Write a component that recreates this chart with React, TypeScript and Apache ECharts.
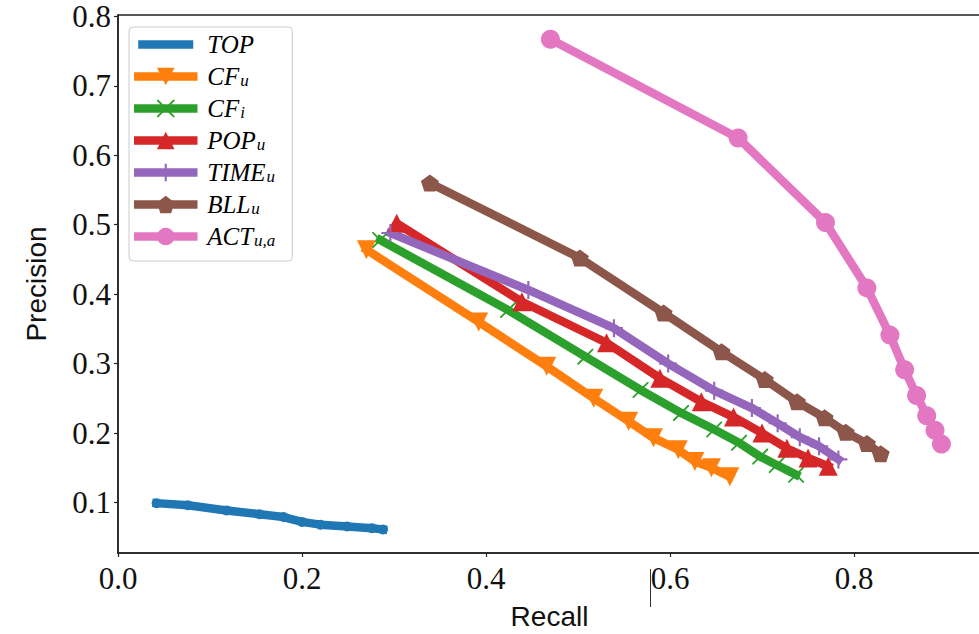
import React, { useEffect, useRef } from "react";
import * as echarts from "echarts";

// Precision / recall curves, one point per cut-off, for each recommender
const seriesNames = ["TOP", "CF_u", "CF_i", "POP_u", "TIME_u", "BLL_u", "ACT_u,a"];
const seriesColors = ["#1f77b4", "#ff7f0e", "#2ca02c", "#d62728", "#9467bd", "#8c564b", "#e377c2"];

const topRecall = [0.042, 0.076, 0.118, 0.154, 0.18, 0.2, 0.22, 0.249, 0.276, 0.288];
const topPrecision = [0.099, 0.096, 0.0885, 0.083, 0.079, 0.072, 0.068, 0.0655, 0.063, 0.061];

const cfuRecall = [0.27, 0.392, 0.466, 0.517, 0.555, 0.582, 0.609, 0.627, 0.645, 0.665];
const cfuPrecision = [0.464, 0.36, 0.296, 0.25, 0.217, 0.193, 0.176, 0.159, 0.15, 0.137];

const cfiRecall = [0.285, 0.424, 0.508, 0.568, 0.612, 0.648, 0.675, 0.698, 0.716, 0.737];
const cfiPrecision = [0.478, 0.377, 0.31, 0.262, 0.229, 0.205, 0.186, 0.166, 0.154, 0.14];

const popRecall = [0.303, 0.439, 0.531, 0.589, 0.634, 0.669, 0.7, 0.727, 0.75, 0.772];
const popPrecision = [0.502, 0.389, 0.33, 0.279, 0.245, 0.223, 0.2, 0.178, 0.164, 0.152];

const timeRecall = [0.296, 0.446, 0.539, 0.598, 0.648, 0.689, 0.717, 0.741, 0.762, 0.783];
const timePrecision = [0.488, 0.406, 0.351, 0.3, 0.261, 0.236, 0.214, 0.194, 0.181, 0.162];

const bllRecall = [0.339, 0.502, 0.593, 0.656, 0.703, 0.738, 0.768, 0.791, 0.814, 0.829];
const bllPrecision = [0.56, 0.452, 0.373, 0.317, 0.277, 0.245, 0.222, 0.201, 0.185, 0.17];

const actRecall = [0.47, 0.674, 0.769, 0.814, 0.839, 0.855, 0.868, 0.879, 0.888, 0.895];
const actPrecision = [0.767, 0.625, 0.503, 0.409, 0.341, 0.291, 0.254, 0.225, 0.204, 0.184];

const recallValues = [topRecall, cfuRecall, cfiRecall, popRecall, timeRecall, bllRecall, actRecall];
const precisionValues = [topPrecision, cfuPrecision, cfiPrecision, popPrecision, timePrecision, bllPrecision, actPrecision];

// Tick labels
const xTicks = [0.0, 0.2, 0.4, 0.6, 0.8];
const yTicks = [0.1, 0.2, 0.3, 0.4, 0.5, 0.6, 0.7, 0.8];

// Legend labels in math style: base letters plus subscript
const legendBase: Record<string, string> = {
  TOP: "TOP",
  CF_u: "CF",
  CF_i: "CF",
  POP_u: "POP",
  TIME_u: "TIME",
  BLL_u: "BLL",
  "ACT_u,a": "ACT",
};
const legendSub: Record<string, string> = {
  TOP: "",
  CF_u: "u",
  CF_i: "i",
  POP_u: "u",
  TIME_u: "u",
  BLL_u: "u",
  "ACT_u,a": "u,a",
};

// Marker shapes
const PENTAGON = "path://M50 0L97.55 34.55L79.4 90.45L20.6 90.45L2.45 34.55Z";
const PLUS = "path://M44 0H56V100H44Z M0 44H100V56H0Z";
const CROSS = "path://M0 0L8 0L100 92L100 100L92 100L0 8Z M100 0L100 8L8 100L0 100L0 92L92 0Z";

const markers: { symbol: string; size: number | number[]; rotate: number }[] = [
  { symbol: "circle", size: 10, rotate: 0 },
  { symbol: "triangle", size: 19, rotate: 180 },
  { symbol: CROSS, size: 16, rotate: 0 },
  { symbol: "triangle", size: 19, rotate: 0 },
  { symbol: PLUS, size: 18, rotate: 0 },
  { symbol: PENTAGON, size: [18, 17], rotate: 0 },
  { symbol: "circle", size: 19, rotate: 0 },
];

const SERIF = "'Liberation Serif', 'DejaVu Serif', serif";
const SANS = "'Liberation Sans', 'DejaVu Sans', sans-serif";

export default function App() {
  const ref = useRef<HTMLDivElement>(null);

  useEffect(() => {
    if (!ref.current) return;
    const chart = echarts.init(ref.current, undefined, { renderer: "svg" });

    const series = seriesNames.map((name, k) => ({
      name,
      type: "line",
      data: recallValues[k].map((r, i) => [r, precisionValues[k][i]]),
      symbol: markers[k].symbol,
      symbolSize: markers[k].size,
      symbolRotate: markers[k].rotate,
      showSymbol: true,
      clip: false,
      lineStyle: { color: seriesColors[k], width: 8.5, cap: "square", join: "round" },
      itemStyle: { color: seriesColors[k], borderWidth: 0 },
      emphasis: { disabled: true },
    }));

    chart.setOption({
      animation: false,
      backgroundColor: "#ffffff",
      grid: {
        left: 118,
        top: 15,
        right: -2,
        bottom: 81,
        show: true,
        borderColor: "#222222",
        borderWidth: 1.5,
        backgroundColor: "#ffffff",
        outerBoundsMode: "none",
      },
      xAxis: {
        type: "value",
        min: 0,
        max: 0.938,
        name: "Recall",
        nameLocation: "middle",
        nameGap: 49,
        nameTextStyle: { fontFamily: SANS, fontSize: 28, color: "#111" },
        axisLine: { show: true, lineStyle: { color: "#222222", width: 1.5 } },
        axisTick: { show: true, length: 4, lineStyle: { color: "#222222", width: 1.2 }, customValues: xTicks },
        axisLabel: {
          customValues: xTicks,
          formatter: (v: number) => v.toFixed(1),
          fontFamily: SERIF,
          fontSize: 31,
          lineHeight: 26,
          color: "#111",
          margin: 12,
        },
        splitLine: { show: false },
      },
      yAxis: {
        type: "value",
        min: 0.0272,
        max: 0.802,
        name: "Precision",
        nameLocation: "middle",
        nameGap: 68,
        nameTextStyle: { fontFamily: SANS, fontSize: 28, color: "#111" },
        axisLine: { show: true, lineStyle: { color: "#222222", width: 1.5 } },
        axisTick: { show: true, length: 4, lineStyle: { color: "#222222", width: 1.2 }, customValues: yTicks },
        axisLabel: {
          customValues: yTicks,
          formatter: (v: number) => v.toFixed(1),
          fontFamily: SERIF,
          fontSize: 31,
          lineHeight: 24,
          color: "#111",
          margin: 7,
        },
        splitLine: { show: false },
      },
      legend: {
        orient: "vertical",
        left: 129,
        top: 27,
        padding: [5, 17, 12, 5],
        itemWidth: 55,
        itemHeight: 22,
        itemGap: 7,
        backgroundColor: "rgba(255,255,255,0.8)",
        borderColor: "#cccccc",
        borderWidth: 1,
        borderRadius: 4,
        lineStyle: { width: 8.5 },
        data: seriesNames.map((name) =>
          name === "TOP" ? { name, icon: "path://M0 0H55V8.5H0Z" } : { name }
        ),
        formatter: (name: string) =>
          legendSub[name] ? `{m|${legendBase[name]}}{s|${legendSub[name]}}` : `{m|${legendBase[name]}}`,
        textStyle: {
          padding: [0, 0, 0, 9],
          color: "#000",
          rich: {
            m: { fontFamily: SERIF, fontStyle: "italic", fontSize: 25, lineHeight: 25, color: "#000" },
            s: {
              fontFamily: SERIF,
              fontStyle: "italic",
              fontSize: 17,
              lineHeight: 17,
              padding: [8, 0, 0, 1],
              verticalAlign: "top",
              color: "#000",
            },
          },
        },
      },
      graphic: [
        {
          type: "line",
          silent: true,
          shape: { x1: 650.5, y1: 569, x2: 650.5, y2: 607 },
          style: { stroke: "#333333", lineWidth: 1 },
        },
      ],
      series,
    });

    return () => chart.dispose();
  }, []);

  return (
    <div
      ref={ref}
      style={{ position: "absolute", left: 0, top: 0, width: 979, height: 634, background: "#fff" }}
    />
  );
}
